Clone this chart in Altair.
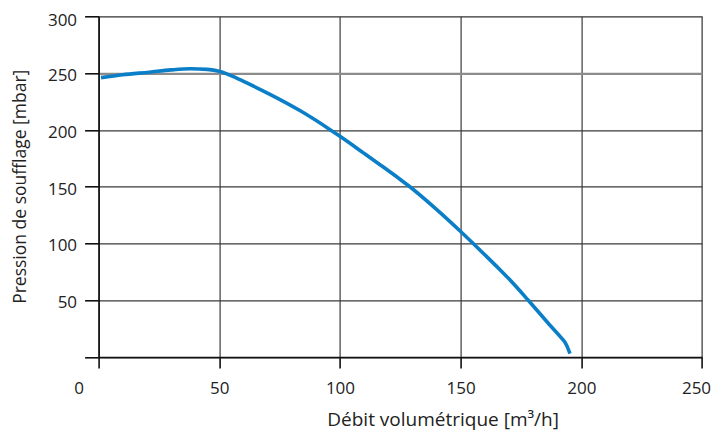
import altair as alt
import pandas as pd

flow = [1, 10, 21, 30, 38, 45, 50.3, 57.2, 62.7, 71, 83.4, 95.9, 100, 110,
        116.6, 125, 128.3, 140, 150, 160, 166.3, 170, 178, 187, 191, 194, 195.3]
pressure = [246, 248.5, 250.8, 252.8, 253.8, 253.3, 251.4, 245.5, 240,
            231.3, 217, 200.2, 194.3, 179.3, 169.3, 156.3, 151, 130, 110.5,
            90, 76.8, 68.8, 50, 28, 18.5, 10, 3]

x_ticks = [0, 50, 100, 150, 200, 250]
y_ticks = [0, 50, 100, 150, 200, 250, 300]

x_title = "Débit volumétrique [m³/h]"
y_title = "Pression de soufflage [mbar]"

df = pd.DataFrame({"flow": flow, "pressure": pressure})

FONT = "Open Sans"

chart = alt.Chart(df).mark_line(
    color="#0a7fc8", strokeWidth=3.6, interpolate="monotone"
).encode(
    x=alt.X(
        "flow:Q",
        scale=alt.Scale(domain=[0, 250], nice=False, zero=False),
        axis=alt.Axis(
            values=x_ticks,
            title=x_title,
            grid=True,
            gridColor="#3a3a3a",
            gridWidth=1.2,
            domainColor="#111111",
            domainWidth=1.6,
            tickColor="#111111",
            tickWidth=1.6,
            tickSize=11,
            labelPadding=12,
            labelFont=FONT,
            labelFontSize=17,
            labelColor="#222222",
            labelOffset={"condition": [{"test": "datum.value === 0", "value": -20},
                                       {"test": "datum.value === 250", "value": -6}],
                         "value": 0},
            labelFlush=False,
            labelOverlap=False,
            titleFont=FONT,
            titleFontSize=19,
            titleFontWeight="normal",
            titleColor="#222222",
            titleX=344,
            titleY=68,
            titleAlign="center",
            titleBaseline="alphabetic",
        ),
    ),
    y=alt.Y(
        "pressure:Q",
        scale=alt.Scale(domain=[0, 300], nice=False, zero=False),
        axis=alt.Axis(
            values=y_ticks,
            title=y_title,
            grid=True,
            gridColor={"condition": {"test": "datum.value === 250", "value": "#8c8c8c"}, "value": "#3a3a3a"},
            gridWidth={"condition": {"test": "datum.value === 250", "value": 2.2}, "value": 1.2},
            domainColor="#111111",
            domainWidth=1.6,
            tickColor="#111111",
            tickWidth=1.6,
            tickSize=14,
            labelPadding=8,
            labelFont=FONT,
            labelFontSize=17,
            labelColor="#222222",
            labelOffset={"condition": {"test": "datum.value === 300", "value": 4.5}, "value": 2.5},
            labelExpr="datum.value == 0 ? '' : datum.label",
            labelFlush=False,
            labelOverlap=False,
            titleFont=FONT,
            titleFontSize=17.5,
            titleFontWeight="normal",
            titleColor="#222222",
            titleAngle=-90,
            titleX=-78,
            titleY=170,
            titleAlign="center",
            titleBaseline="middle",
        ),
    ),
).properties(
    width=603.4,
    height=340.7,
    padding={"left": 90.6, "top": 8.3, "right": 9, "bottom": 75},
    autosize=alt.AutoSizeParams(type="none"),
).configure_view(
    stroke="#111111", strokeWidth=1.6
).configure(background="white")

chart.save("out.html", embed_options={"renderer": "svg", "actions": False})
